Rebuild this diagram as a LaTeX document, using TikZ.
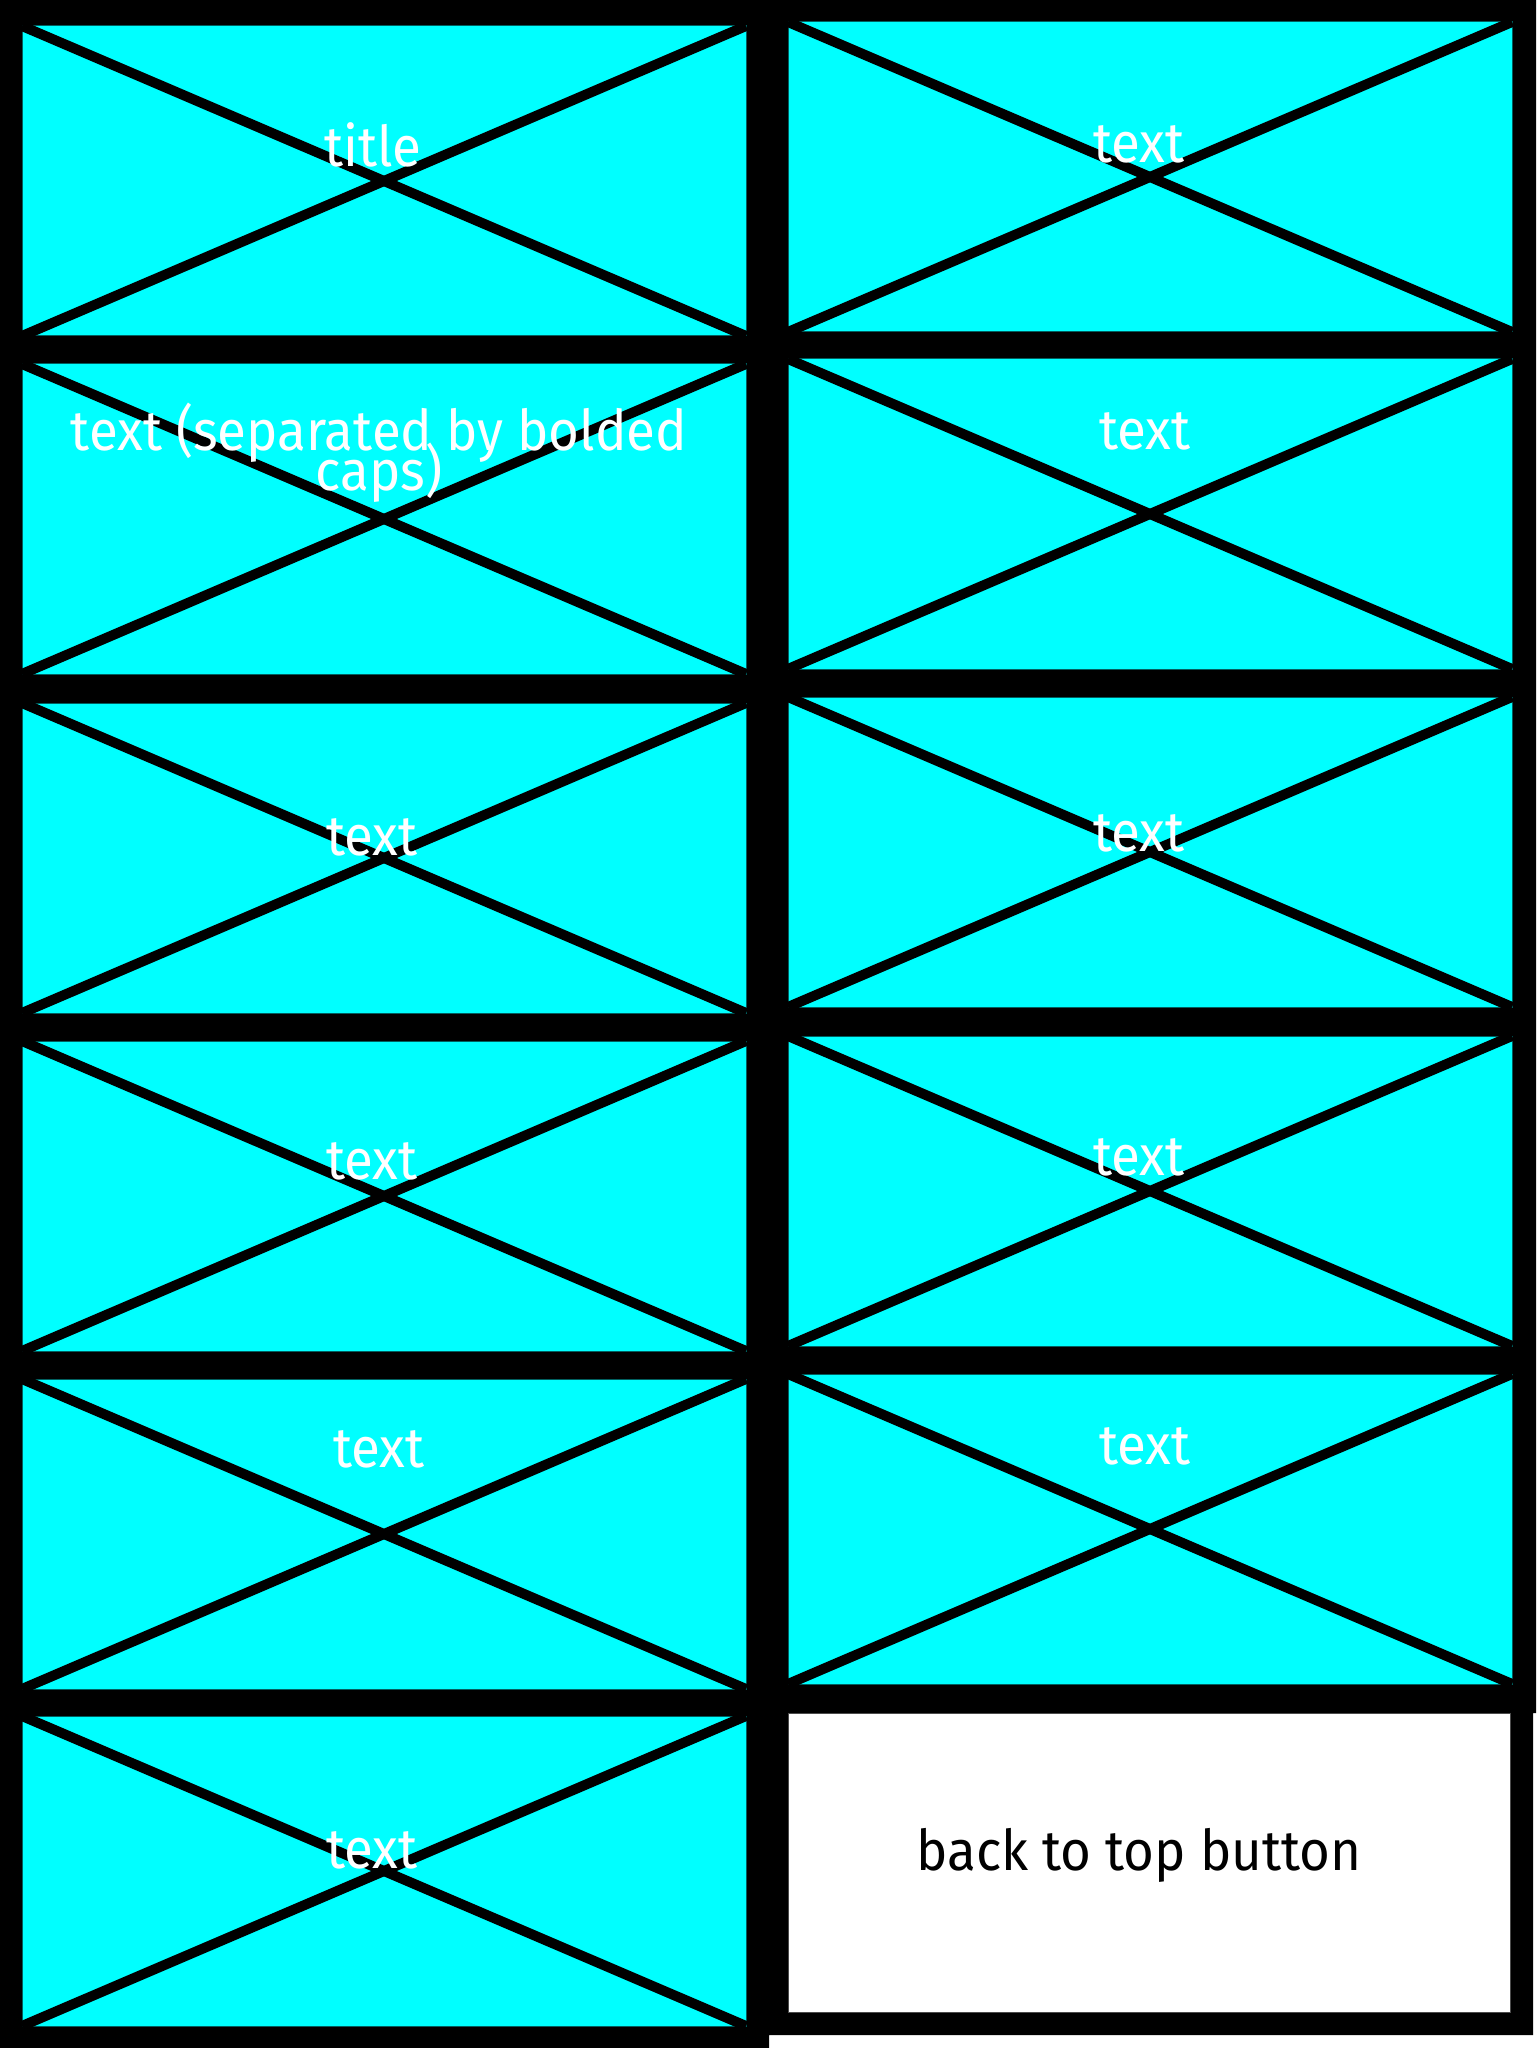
\documentclass[tikz,border=0pt]{standalone}
\usepackage{fontspec}
\setmainfont{Fira Sans}[FakeStretch=0.94]
\usetikzlibrary{positioning}
\definecolor{tile}{HTML}{00FFFF}
\definecolor{tileedge}{HTML}{006060}

\begin{document}
\begin{tikzpicture}[
  x=0.1mm, y=-0.1mm,
  tilebox/.style={fill=tile, draw=tileedge, line width=0.1mm, inner sep=0pt, outer sep=0pt, anchor=north west, minimum width=72.4mm, minimum height=31mm},
  buttonbox/.style={fill=white, draw=black!70, line width=0.1mm, inner sep=0pt, outer sep=0pt, anchor=north west, minimum width=72.2mm, minimum height=29.9mm},
  cross/.style={draw=black, line width=1mm},
  lbl/.style={text=white, anchor=base, inner sep=0pt, font=\fontsize{16pt}{10.5pt}\selectfont, align=center},
  darklbl/.style={text=black, anchor=base, inner sep=0pt, font=\fontsize{16pt}{10.5pt}\selectfont}
]
\useasboundingbox (0,0) rectangle (1536,2048);
\fill[white] (0,0) rectangle (1536,2048);
\fill[black] (0,0) -- (1536,0) -- (1536,1713) -- (1533,1713) -- (1533,2035) -- (769,2035) -- (769,2048) -- (0,2048) -- cycle;

% left column
\node[tilebox] (left1) at (22,26) {};
\node[tilebox] (left2) at (22,364) {};
\node[tilebox] (left3) at (22,703) {};
\node[tilebox] (left4) at (22,1041) {};
\node[tilebox] (left5) at (22,1379) {};
\node[tilebox] (left6) at (22,1716) {};

% right column
\node[tilebox] (right1) at (788,22) {};
\node[tilebox] (right2) at (788,359) {};
\node[tilebox] (right3) at (788,697) {};
\node[tilebox] (right4) at (788,1036) {};
\node[tilebox] (right5) at (788,1374) {};
\node[buttonbox] (backtop) at (788,1713) {};

\draw[cross] (left1.north west)--(left1.south east) (left1.south west)--(left1.north east);
\draw[cross] (left2.north west)--(left2.south east) (left2.south west)--(left2.north east);
\draw[cross] (left3.north west)--(left3.south east) (left3.south west)--(left3.north east);
\draw[cross] (left4.north west)--(left4.south east) (left4.south west)--(left4.north east);
\draw[cross] (left5.north west)--(left5.south east) (left5.south west)--(left5.north east);
\draw[cross] (left6.north west)--(left6.south east) (left6.south west)--(left6.north east);
\draw[cross] (right1.north west)--(right1.south east) (right1.south west)--(right1.north east);
\draw[cross] (right2.north west)--(right2.south east) (right2.south west)--(right2.north east);
\draw[cross] (right3.north west)--(right3.south east) (right3.south west)--(right3.north east);
\draw[cross] (right4.north west)--(right4.south east) (right4.south west)--(right4.north east);
\draw[cross] (right5.north west)--(right5.south east) (right5.south west)--(right5.north east);

\node[lbl] (left1lbl) at (373,167) {title};
\node[lbl] (left2lbl) at (379,491) {text (separated by bolded\\[-6.3pt]caps)};
\node[lbl] (left3lbl) at (372,855) {text};
\node[lbl] (left4lbl) at (372,1179) {text};
\node[lbl] (left5lbl) at (379,1467) {text};
\node[lbl] (left6lbl) at (372,1868) {text};
\node[lbl] (right1lbl) at (1139,163) {text};
\node[lbl] (right2lbl) at (1145,449) {text};
\node[lbl] (right3lbl) at (1139,851) {text};
\node[lbl] (right4lbl) at (1139,1175) {text};
\node[lbl] (right5lbl) at (1145,1464) {text};
\node[darklbl] (backtoplbl) at (1139,1870) {back to top button};
\end{tikzpicture}
\end{document}
